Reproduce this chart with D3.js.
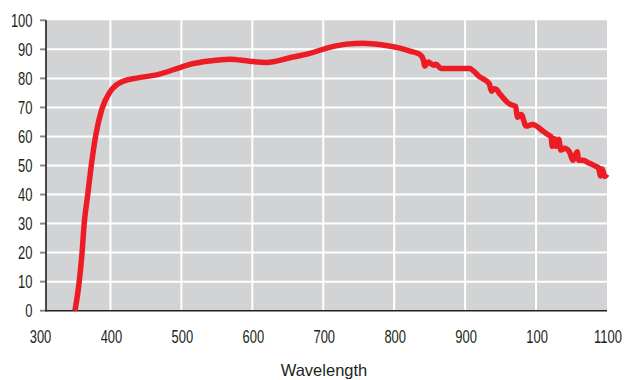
<!DOCTYPE html>
<html>
<head>
<meta charset="utf-8">
<script src="https://cdn.jsdelivr.net/npm/d3@7/dist/d3.min.js"></script>
<style>
html,body{margin:0;padding:0;background:#fff;}
svg{display:block;}
.tick-label{font-family:"Liberation Sans",Arial,sans-serif;font-size:17.5px;fill:#231f20;}
.axis-title{font-family:"Liberation Sans",Arial,sans-serif;font-size:16.5px;fill:#231f20;}
</style>
</head>
<body>
<svg id="chart" width="632" height="380"></svg>
<script>
// Data
const wavelength = [350,356,360,363,368,373,379,388,399,418,437,465,500,512,540,568,596,620,653,681,709,733,756,784,808,822,836,841,843,848,851,856,859,866,906,920,934,937,941,944,949,963,971,974,979,986,995,1010,1017,1021,1023,1026,1028,1032,1035,1040,1047,1052,1058,1060,1066,1075,1085,1088,1091,1093,1097,1100];
const response   = [0,10,20,30,40,50,60,69.5,75.2,79,80.1,81.2,83.9,84.8,86.0,86.6,85.9,85.5,87.1,88.6,90.7,91.8,92.1,91.5,90.4,89.4,88.3,86.5,84.2,85.6,85.2,84.5,84.9,83.4,83.4,80.6,78.2,75.6,76.4,76.2,74.6,71.1,70.4,66.6,67.6,63.6,64.1,61.8,60.6,60.0,56.6,59.2,56.6,59.0,55.3,55.9,54.7,51.8,54.7,51.8,51.8,50.8,49.6,49.2,46.4,48.8,46.2,47];
const xTicks = [300,400,500,600,700,800,900,1000,1100];
const xTickLabels = ["300","400","500","600","700","800","900","100","1100"];
const yTicks = [0,10,20,30,40,50,60,70,80,90,100];
const yTickLabels = ["0","10","20","30","40","50","60","70","80","90","100"];
const xTitle = "Wavelength";

const svg = d3.select("#chart");
const x = d3.scaleLinear().domain([300,1100]).range([39.5,607]);
const y = d3.scaleLinear().domain([0,100]).range([310.7,20.3]);
const plotLeft = 46, plotRight = x(1100), plotTop = y(100), plotBottom = y(0);
const condense = 0.74;

// background
svg.append("rect").attr("x",plotLeft).attr("y",plotTop)
  .attr("width",plotRight-plotLeft).attr("height",plotBottom-plotTop)
  .attr("fill","#d1d3d4");

// grid
svg.append("g").selectAll("line").data(xTicks.filter(d=>d>300&&d<1100)).join("line")
  .attr("x1",d=>x(d)).attr("x2",d=>x(d)).attr("y1",plotTop).attr("y2",plotBottom)
  .attr("stroke","#fff").attr("stroke-width",2);
svg.append("g").selectAll("line").data(yTicks.filter(d=>d>0&&d<100)).join("line")
  .attr("x1",plotLeft).attr("x2",plotRight).attr("y1",d=>y(d)).attr("y2",d=>y(d))
  .attr("stroke","#fff").attr("stroke-width",2);

// y ticks
svg.append("g").selectAll("line").data(yTicks).join("line")
  .attr("x1",40).attr("x2",plotLeft).attr("y1",d=>y(d)).attr("y2",d=>y(d))
  .attr("stroke","#8a8b8d").attr("stroke-width",2);

// axis lines
svg.append("line").attr("x1",plotLeft).attr("x2",plotLeft).attr("y1",plotTop).attr("y2",plotBottom+0.8)
  .attr("stroke","#231f20").attr("stroke-width",1.6);
svg.append("line").attr("x1",plotLeft).attr("x2",plotRight).attr("y1",plotBottom).attr("y2",plotBottom)
  .attr("stroke","#231f20").attr("stroke-width",1.6);

// curve
const pts = wavelength.map((w,i)=>[w,response[i]]);
const line = d3.line().x(d=>x(d[0])).y(d=>y(d[1])).curve(d3.curveMonotoneX);
svg.append("path").datum(pts).attr("d",line)
  .attr("fill","none").attr("stroke","#ed1c24").attr("stroke-width",5.5)
  .attr("stroke-linejoin","round").attr("stroke-linecap","butt");

// labels (condensed)
svg.append("g").selectAll("text").data(yTicks).join("text")
  .attr("class","tick-label").attr("text-anchor","end")
  .attr("transform",d=>`translate(32.5,${y(d)+6.3}) scale(${condense},1)`)
  .text((d,i)=>yTickLabels[i]);
svg.append("g").selectAll("text").data(xTicks).join("text")
  .attr("class","tick-label").attr("text-anchor","middle")
  .attr("transform",d=>`translate(${x(d)+1},343.3) scale(${condense},1)`)
  .text((d,i)=>xTickLabels[i]);
svg.append("text").attr("class","axis-title").attr("x",324).attr("y",376)
  .attr("text-anchor","middle").text(xTitle);
</script>
</body>
</html>
